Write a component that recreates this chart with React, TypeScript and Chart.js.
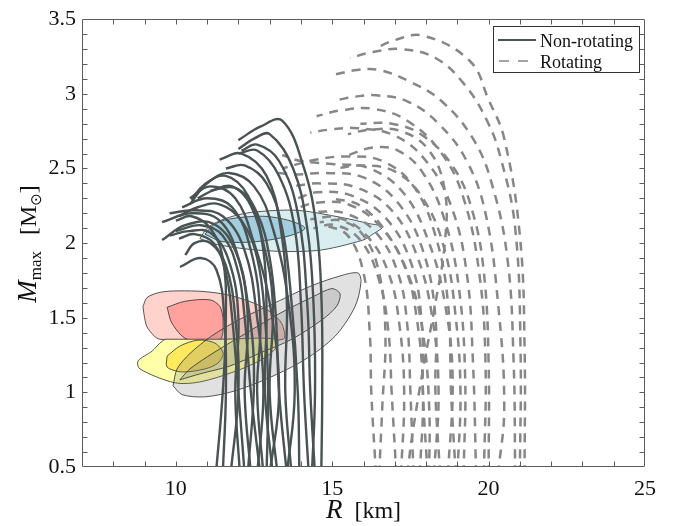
import React, { useEffect, useRef } from 'react';
import { Chart, registerables } from 'chart.js';

Chart.register(...registerables);

type Pt = [number, number];

// ---------- axes ----------
const X_MIN = 7;
const X_MAX = 25;
const Y_MIN = 0.5;
const Y_MAX = 3.5;
const X_TICKS = [10, 15, 20, 25];
const X_TICK_LABELS = ['10', '15', '20', '25'];
const Y_TICKS = [0.5, 1, 1.5, 2, 2.5, 3, 3.5];
const Y_TICK_LABELS = ['0.5', '1', '1.5', '2', '2.5', '3', '3.5'];
const X_MINOR_STEP = 1;
const Y_MINOR_STEP = 0.1;
const LEGEND_LABELS = ['Non-rotating', 'Rotating'];

// ---------- non-rotating M-R curves (R km, M Msun) ----------
const NR_01: Pt[] = [[14.65, 0.45], [14.68, 1.0], [14.66, 1.6], [14.5, 2.1], [14.1, 2.5], [13.4, 2.82], [12.7, 2.78], [12.0, 2.69]];
const NR_02: Pt[] = [[14.35, 0.45], [14.45, 1.0], [14.4, 1.6], [14.2, 2.1], [13.75, 2.5], [13.0, 2.73], [12.5, 2.7], [12.0, 2.63]];
const NR_03: Pt[] = [[13.7, 0.45], [13.5, 1.0], [13.55, 1.6], [13.35, 2.1], [12.9, 2.45], [12.1, 2.6], [11.4, 2.56]];
const NR_04: Pt[] = [[13.55, 0.45], [13.8, 1.0], [13.6, 1.6], [13.1, 2.1], [12.5, 2.38], [11.7, 2.47], [11.0, 2.4], [10.45, 2.26]];
const NR_05: Pt[] = [[13.25, 0.45], [13.0, 1.0], [13.1, 1.6], [12.8, 2.0], [12.3, 2.32], [11.6, 2.45], [10.9, 2.39], [10.5, 2.29]];
const NR_06: Pt[] = [[13.0, 0.45], [13.3, 1.0], [13.0, 1.6], [12.5, 2.0], [11.9, 2.3], [11.1, 2.38], [10.45, 2.3]];
const NR_07: Pt[] = [[12.8, 0.45], [12.6, 1.0], [12.7, 1.5], [12.4, 1.95], [11.8, 2.24], [11.0, 2.3], [10.2, 2.24]];
const NR_08: Pt[] = [[12.6, 0.45], [12.8, 1.0], [12.6, 1.5], [12.2, 1.95], [11.5, 2.18], [10.6, 2.22], [9.8, 2.2]];
const NR_09: Pt[] = [[12.4, 0.45], [12.2, 1.0], [12.3, 1.5], [12.0, 1.9], [11.4, 2.15], [10.5, 2.2], [9.56, 2.14]];
const NR_10: Pt[] = [[12.3, 0.45], [12.5, 1.1], [12.3, 1.6], [11.9, 1.95], [11.2, 2.13], [10.3, 2.12], [9.56, 2.02]];
const NR_11: Pt[] = [[12.05, 0.45], [11.9, 1.0], [12.0, 1.5], [11.7, 1.88], [11.1, 2.07], [10.4, 2.08], [9.8, 2.05]];
const NR_12: Pt[] = [[11.75, 0.45], [12.0, 1.0], [11.9, 1.5], [11.6, 1.85], [11.1, 2.0], [10.6, 2.0], [10.3, 1.92]];
const NR_13: Pt[] = [[11.5, 0.45], [11.6, 1.0], [11.55, 1.5], [11.3, 1.82], [10.8, 1.9], [10.13, 1.84]];
const NR_14: Pt[] = [[11.28, 0.45], [11.5, 1.0], [11.6, 1.5], [11.5, 1.9], [11.1, 2.1], [10.5, 2.18], [10.0, 2.15]];
const NR_15: Pt[] = [[13.95, 0.45], [13.9, 1.0], [13.7, 1.6], [13.4, 2.1], [12.9, 2.4], [12.2, 2.52], [11.6, 2.5]];
const NR_16: Pt[] = [[14.25, 0.45], [14.1, 1.0], [14.0, 1.6], [13.8, 2.1], [13.3, 2.45], [12.6, 2.62], [12.0, 2.6]];
const NR_17: Pt[] = [[13.55, 0.45], [13.3, 1.0], [13.2, 1.5], [13.0, 1.9], [12.6, 2.2], [12.0, 2.36], [11.3, 2.36], [10.7, 2.3]];
const NR_18: Pt[] = [[12.9, 0.45], [12.95, 1.0], [12.85, 1.5], [12.6, 1.9], [12.1, 2.15], [11.4, 2.26], [10.7, 2.24], [10.1, 2.18]];
const NR_19: Pt[] = [[12.7, 0.45], [12.4, 1.0], [12.2, 1.5], [12.0, 1.8], [11.5, 2.05], [10.8, 2.12], [10.0, 2.08]];
const NR_20: Pt[] = [[12.2, 0.45], [12.0, 1.0], [11.8, 1.5], [11.6, 1.8], [11.2, 2.0], [10.6, 2.06], [10.1, 2.03]];
const NR_21: Pt[] = [[14.45, 0.45], [14.3, 1.0], [14.2, 1.6], [13.9, 2.2], [13.3, 2.55], [12.6, 2.66], [12.1, 2.62]];
const NR_22: Pt[] = [[13.1, 0.45], [12.85, 1.0], [12.9, 1.5], [12.8, 1.95], [12.4, 2.25], [11.8, 2.38], [11.1, 2.35]];
const NON_ROTATING: Pt[][] = [NR_01, NR_02, NR_03, NR_04, NR_05, NR_06, NR_07, NR_08, NR_09, NR_10, NR_11,
  NR_12, NR_13, NR_14, NR_15, NR_16, NR_17, NR_18, NR_19, NR_20, NR_21, NR_22];

// ---------- rotating M-R curves ----------
const RO_01: Pt[] = [[21.15, 0.45], [21.15, 1.3], [21.0, 2.05], [20.5, 2.7], [20.0, 2.96], [19.4, 3.22], [17.9, 3.39], [17.0, 3.36], [16.35, 3.3]];
const RO_02: Pt[] = [[21.0, 0.45], [21.02, 1.3], [20.85, 2.1], [20.4, 2.56], [19.95, 2.82], [19.2, 3.07], [18.3, 3.24], [17.2, 3.3], [16.3, 3.28], [15.57, 3.24]];
const RO_03: Pt[] = [[20.85, 0.45], [20.8, 1.2], [20.6, 1.9], [20.1, 2.4], [19.5, 2.7], [18.5, 2.95], [17.5, 3.08], [16.5, 3.16], [15.8, 3.16], [15.1, 3.13]];
const RO_04: Pt[] = [[20.3, 0.45], [20.5, 0.9], [20.3, 1.6], [19.9, 2.2], [19.3, 2.55], [18.4, 2.8], [17.4, 2.95], [16.4, 2.99], [15.7, 2.98], [15.2, 2.96]];
const RO_05: Pt[] = [[19.85, 0.45], [19.9, 1.2], [19.7, 1.8], [19.2, 2.3], [18.5, 2.6], [17.4, 2.82], [16.3, 2.9], [15.3, 2.89], [14.5, 2.85]];
const RO_06: Pt[] = [[19.6, 0.45], [19.5, 1.2], [19.3, 1.8], [18.8, 2.25], [18.0, 2.55], [17.0, 2.72], [15.8, 2.77], [14.9, 2.76], [14.3, 2.74]];
const RO_07: Pt[] = [[19.2, 0.45], [19.25, 1.1], [19.05, 1.7], [18.6, 2.15], [17.9, 2.47], [17.1, 2.62], [16.3, 2.64], [15.4, 2.58]];
const RO_08: Pt[] = [[18.95, 0.45], [18.8, 1.0], [18.7, 1.6], [18.3, 2.05], [17.6, 2.38], [16.6, 2.55], [15.5, 2.58], [14.5, 2.56], [13.4, 2.5]];
const RO_09: Pt[] = [[18.7, 0.45], [18.85, 1.1], [18.6, 1.6], [18.1, 2.0], [17.3, 2.33], [16.2, 2.5], [15.0, 2.53], [14.0, 2.55], [13.4, 2.59]];
const RO_10: Pt[] = [[18.45, 0.45], [18.3, 1.0], [18.3, 1.5], [17.9, 1.95], [17.1, 2.27], [16.0, 2.44], [14.8, 2.47], [13.9, 2.46], [13.27, 2.47]];
const RO_11: Pt[] = [[18.25, 0.45], [18.4, 1.0], [18.2, 1.5], [17.7, 1.92], [16.9, 2.22], [15.8, 2.37], [14.6, 2.4], [13.7, 2.38]];
const RO_12: Pt[] = [[18.05, 0.45], [17.9, 1.0], [17.85, 1.5], [17.5, 1.88], [16.7, 2.17], [15.6, 2.32], [14.5, 2.34], [13.9, 2.3]];
const RO_13: Pt[] = [[17.8, 0.45], [17.9, 1.0], [17.7, 1.5], [17.3, 1.85], [16.5, 2.12], [15.5, 2.26], [14.5, 2.27], [13.8, 2.23]];
const RO_14: Pt[] = [[17.6, 0.45], [17.5, 1.0], [17.4, 1.45], [17.1, 1.8], [16.4, 2.07], [15.4, 2.2], [14.4, 2.21]];
const RO_15: Pt[] = [[17.2, 0.45], [17.3, 1.0], [17.15, 1.45], [16.8, 1.8], [16.1, 2.05], [15.2, 2.17], [14.3, 2.16]];
const RO_16: Pt[] = [[17.05, 0.45], [16.9, 1.0], [16.8, 1.4], [16.5, 1.75], [15.9, 2.02], [15.1, 2.12], [14.4, 2.1]];
const RO_17: Pt[] = [[16.5, 0.45], [16.6, 0.9], [16.7, 1.4], [16.5, 1.8], [16.0, 2.05], [15.3, 2.15], [14.6, 2.14]];
const RO_18: Pt[] = [[16.4, 0.45], [16.25, 1.0], [16.2, 1.4], [16.0, 1.8], [15.5, 2.05], [14.8, 2.12]];
const RO_19: Pt[] = [[17.4, 0.45], [17.55, 0.7], [17.9, 1.15], [18.3, 1.6], [18.6, 2.0], [18.6, 2.35], [18.1, 2.62], [17.2, 2.75], [16.2, 2.76], [15.5, 2.73]];
const RO_20: Pt[] = [[19.0, 0.45], [19.1, 1.0], [18.95, 1.5], [18.6, 1.95], [17.9, 2.3], [17.0, 2.48], [16.0, 2.52], [15.1, 2.5]];
const RO_21: Pt[] = [[18.1, 0.45], [18.1, 0.9], [17.9, 1.4], [17.5, 1.75], [16.8, 2.05], [15.9, 2.25], [15.0, 2.3]];
const RO_22: Pt[] = [[20.0, 0.45], [20.0, 1.2], [19.85, 1.8], [19.5, 2.2], [18.9, 2.5], [17.9, 2.72], [16.9, 2.8], [15.9, 2.8]];
const ROTATING: Pt[][] = [RO_01, RO_02, RO_03, RO_04, RO_05, RO_06, RO_07, RO_08, RO_09, RO_10, RO_11,
  RO_12, RO_13, RO_14, RO_15, RO_16, RO_17, RO_18, RO_19, RO_20, RO_21, RO_22];

// ---------- observational contours ----------
const BLUE_OUTER: Pt[] = [[10.77, 2.03], [11.0, 2.1], [11.41, 2.15], [12.0, 2.19], [12.59, 2.21], [13.87, 2.22], [15.34, 2.17], [16.2, 2.13], [16.62, 2.11], [16.3, 2.06], [15.98, 2.02], [14.51, 1.95], [12.79, 1.95], [11.32, 1.99]];
const BLUE_INNER: Pt[] = [[10.93, 2.06], [11.2, 2.12], [11.67, 2.16], [12.79, 2.18], [13.65, 2.15], [14.13, 2.1], [13.65, 2.05], [12.59, 2.01], [11.48, 2.01]];
const RED_OUTER: Pt[] = [[8.95, 1.575], [9.0, 1.5], [9.1, 1.43], [9.49, 1.356], [11.5, 1.356], [13.43, 1.356], [13.39, 1.46], [13.01, 1.54], [12.53, 1.595], [11.73, 1.65], [10.93, 1.675], [10.07, 1.68], [9.49, 1.67], [9.08, 1.635]];
const RED_INNER: Pt[] = [[9.72, 1.57], [10.29, 1.61], [11.09, 1.62], [11.41, 1.575], [11.51, 1.476], [11.41, 1.356], [10.36, 1.356], [9.88, 1.462]];
const YELLOW_OUTER: Pt[] = [[9.65, 1.356], [11.5, 1.356], [13.23, 1.356], [13.17, 1.29], [12.75, 1.22], [11.89, 1.14], [10.77, 1.07], [9.97, 1.064], [8.85, 1.157], [8.79, 1.21], [9.24, 1.276], [9.49, 1.33]];
const YELLOW_INNER: Pt[] = [[9.72, 1.243], [10.13, 1.31], [10.71, 1.35], [11.25, 1.33], [11.51, 1.263], [11.35, 1.197], [10.93, 1.157], [10.2, 1.137], [9.72, 1.17]];
const GRAY_OUTER: Pt[] = [[9.91, 1.044], [10.2, 0.985], [10.93, 0.97], [11.89, 1.01], [13.01, 1.1], [14.13, 1.22], [15.09, 1.376], [15.73, 1.575], [15.92, 1.74], [15.82, 1.8], [15.25, 1.78], [14.29, 1.71], [13.17, 1.6], [12.05, 1.49], [11.16, 1.38], [10.45, 1.26], [10.04, 1.157]];
const GRAY_INNER: Pt[] = [[10.13, 1.084], [10.77, 1.124], [11.73, 1.177], [12.69, 1.263], [13.71, 1.356], [14.7, 1.49], [15.15, 1.58], [15.25, 1.66], [14.99, 1.695], [14.38, 1.64], [13.33, 1.53], [12.27, 1.4], [11.19, 1.263], [10.45, 1.157]];

// ---------- styles ----------
const SERIF = "'Liberation Serif', 'Times New Roman', 'DejaVu Serif', serif";
const SOLID_COLOR = '#4a5353';
const DASH_COLOR = '#878787';
const CONTOUR_EDGE = '#2e2e2e';

const toXY = (pts: Pt[]) => pts.map(([x, y]) => ({ x, y }));
const closed = (pts: Pt[]) => toXY([...pts, pts[0]]);

function contour(pts: Pt[], color: string, order: number) {
  return {
    data: closed(pts),
    fill: 'shape',
    backgroundColor: color,
    borderColor: CONTOUR_EDGE,
    borderWidth: 0.8,
    pointRadius: 0,
    tension: 0.3,
    order,
    clip: 0,
  };
}

const framePlugin = {
  id: 'frame',
  afterDatasetsDraw(chart: any) {
    const { ctx, chartArea: a, scales } = chart;
    const xs = scales.x;
    const ys = scales.y;
    const L = Math.round(a.left) + 0.5;
    const R = Math.round(a.right) - 0.5;
    const T = Math.round(a.top) + 0.5;
    const B = Math.round(a.bottom) - 0.5;
    ctx.save();
    ctx.strokeStyle = '#5c5c5c';
    ctx.lineWidth = 1;
    ctx.beginPath();
    ctx.rect(L, T, R - L, B - T);
    const len = 5;
    const nx = Math.round((X_MAX - X_MIN) / X_MINOR_STEP);
    for (let i = 1; i < nx; i++) {
      const px = Math.round(xs.getPixelForValue(X_MIN + i * X_MINOR_STEP)) + 0.5;
      ctx.moveTo(px, B); ctx.lineTo(px, B - len);
      ctx.moveTo(px, T); ctx.lineTo(px, T + len);
    }
    const ny = Math.round((Y_MAX - Y_MIN) / Y_MINOR_STEP);
    for (let i = 1; i < ny; i++) {
      const py = Math.round(ys.getPixelForValue(Y_MIN + i * Y_MINOR_STEP)) + 0.5;
      ctx.moveTo(L, py); ctx.lineTo(L + len, py);
      ctx.moveTo(R, py); ctx.lineTo(R - len, py);
    }
    ctx.stroke();
    ctx.restore();
  },
};

const annotatePlugin = {
  id: 'annotate',
  afterDraw(chart: any) {
    const { ctx, chartArea: a } = chart;
    ctx.save();
    ctx.fillStyle = '#111';
    ctx.textBaseline = 'alphabetic';
    ctx.textAlign = 'left';

    // x title: R [km]
    ctx.font = `italic 27px ${SERIF}`;
    const wR = ctx.measureText('R').width;
    ctx.font = `24px ${SERIF}`;
    const wK = ctx.measureText('[km]').width;
    const gap = 12;
    const x0 = (a.left + a.right) / 2 - (wR + gap + wK) / 2;
    ctx.font = `italic 27px ${SERIF}`;
    ctx.fillText('R', x0, 518);
    ctx.font = `24px ${SERIF}`;
    ctx.fillText('[km]', x0 + wR + gap, 518);

    // y title: M_max [M_sun]
    const parts: [string, string, number][] = [
      ['M', `italic 27px ${SERIF}`, 0],
      ['max', `17px ${SERIF}`, 5],
      ['', '', 0],
      ['[M', `24px ${SERIF}`, 0],
      ['\u2299', `15px 'DejaVu Sans', ${SERIF}`, 5],
      [']', `24px ${SERIF}`, 0],
    ];
    const widths = parts.map(([t, f]) => {
      if (!t) return 16;
      ctx.font = f;
      return ctx.measureText(t).width;
    });
    const total = widths.reduce((s, w) => s + w, 0);
    ctx.save();
    ctx.translate(36, 244 + total / 2);
    ctx.rotate(-Math.PI / 2);
    let t = 0;
    parts.forEach(([txt, f, dy], i) => {
      if (txt) {
        ctx.font = f;
        ctx.fillText(txt, t, dy);
      }
      t += widths[i];
    });
    ctx.restore();

    // legend
    const lx = 493.5, ly = 26.5, lw = 146, lh = 46;
    ctx.fillStyle = '#fff';
    ctx.fillRect(lx, ly, lw, lh);
    ctx.strokeStyle = '#333';
    ctx.lineWidth = 1;
    ctx.strokeRect(lx, ly, lw, lh);
    ctx.beginPath();
    ctx.strokeStyle = SOLID_COLOR;
    ctx.lineWidth = 2.2;
    ctx.moveTo(498, 40);
    ctx.lineTo(536, 40);
    ctx.stroke();
    ctx.beginPath();
    ctx.strokeStyle = DASH_COLOR;
    ctx.lineWidth = 1.6;
    ctx.setLineDash([10, 9]);
    ctx.moveTo(499, 61);
    ctx.lineTo(536, 61);
    ctx.stroke();
    ctx.setLineDash([]);
    ctx.fillStyle = '#111';
    ctx.font = `18px ${SERIF}`;
    ctx.fillText(LEGEND_LABELS[0], 540, 47);
    ctx.fillText(LEGEND_LABELS[1], 540, 68);
    ctx.restore();
  },
};

export default function App() {
  const ref = useRef<HTMLCanvasElement | null>(null);

  useEffect(() => {
    const canvas = ref.current;
    if (!canvas) return;

    const contours = [
      contour(BLUE_OUTER, '#d9eef0', 100),
      contour(BLUE_INNER, 'rgba(125,185,212,0.6)', 99),
      contour(RED_OUTER, '#ffd3cb', 98),
      contour(RED_INNER, '#ffa19c', 97),
      contour(YELLOW_OUTER, '#ffffa8', 96),
      contour(YELLOW_INNER, '#ffe95c', 95),
      contour(GRAY_OUTER, 'rgba(120,120,120,0.22)', 94),
      contour(GRAY_INNER, 'rgba(120,120,120,0.22)', 93),
    ];
    const dashed = ROTATING.map((c) => ({
      data: toXY(c),
      borderColor: DASH_COLOR,
      borderWidth: 2.5,
      borderDash: [9, 7],
      pointRadius: 0,
      tension: 0.4,
      fill: false,
      order: 2,
      clip: 0,
    }));
    const solid = NON_ROTATING.map((c) => ({
      data: toXY(c),
      borderColor: SOLID_COLOR,
      borderWidth: 2.4,
      pointRadius: 0,
      tension: 0.4,
      fill: false,
      order: 1,
      clip: 0,
    }));

    const chart = new Chart(canvas, {
      type: 'line',
      data: { datasets: [...contours, ...dashed, ...solid] as any },
      options: {
        animation: false,
        responsive: false,
        devicePixelRatio: 1,
        events: [],
        layout: { padding: { left: 0, top: 15, right: 30, bottom: 0 } },
        plugins: {
          legend: { display: false },
          tooltip: { enabled: false },
        },
        scales: {
          x: {
            type: 'linear',
            min: X_MIN,
            max: X_MAX,
            grid: { display: false, drawTicks: false },
            border: { display: false },
            afterBuildTicks: (s: any) => { s.ticks = X_TICKS.map((v) => ({ value: v })); },
            afterFit: (s: any) => { s.height = 59; },
            ticks: {
              padding: 9,
              autoSkip: false,
              maxRotation: 0,
              color: '#111',
              font: { family: SERIF, size: 22 },
              callback: (_v: any, i: number) => X_TICK_LABELS[i],
            },
          },
          y: {
            type: 'linear',
            min: Y_MIN,
            max: Y_MAX,
            grid: { display: false, drawTicks: false },
            border: { display: false },
            afterBuildTicks: (s: any) => { s.ticks = Y_TICKS.map((v) => ({ value: v })); },
            afterFit: (s: any) => { s.width = 82; },
            ticks: {
              padding: 6,
              autoSkip: false,
              color: '#111',
              font: { family: SERIF, size: 22 },
              callback: (_v: any, i: number) => Y_TICK_LABELS[i],
            },
          },
        },
      } as any,
      plugins: [framePlugin, annotatePlugin],
    });
    return () => chart.destroy();
  }, []);

  return (
    <div style={{ position: 'absolute', left: 0, top: 0, width: 675, height: 526, background: '#fff' }}>
      <canvas ref={ref} width={675} height={526} style={{ display: 'block', width: 675, height: 526 }} />
    </div>
  );
}
